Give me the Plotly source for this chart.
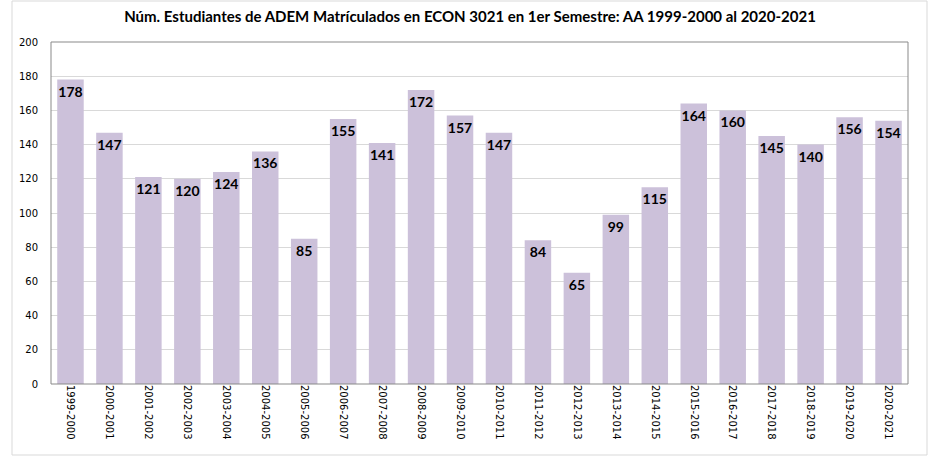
import plotly.graph_objects as go

categories = ["1999-2000","2000-2001","2001-2002","2002-2003","2003-2004","2004-2005",
              "2005-2006","2006-2007","2007-2008","2008-2009","2009-2010","2010-2011",
              "2011-2012","2012-2013","2013-2014","2014-2015","2015-2016","2016-2017",
              "2017-2018","2018-2019","2019-2020","2020-2021"]
values = [178,147,121,120,124,136,85,155,141,172,157,147,84,65,99,115,164,160,145,140,156,154]
y_ticks = [0,20,40,60,80,100,120,140,160,180,200]
title = "Núm. Estudiantes de ADEM Matrículados en ECON 3021 en 1er Semestre: AA 1999-2000 al 2020-2021"

W, H = 941, 457
L, R, T, B = 51, 33, 42, 73
pw, ph = W - L - R, H - T - B

fig = go.Figure(go.Bar(
    x=categories, y=values, marker=dict(color="#CCC1DA", line=dict(width=0)),
    width=0.68, text=values, textposition="inside", insidetextanchor="end",
    textangle=0, textfont=dict(family="Lato", size=14, color="black", weight="bold"),
    cliponaxis=False,
))

fig.update_layout(
    width=W, height=H, margin=dict(l=L, r=R, t=T, b=B, autoexpand=False),
    paper_bgcolor="white", plot_bgcolor="white",
    uniformtext=dict(minsize=14, mode="show"),
    title=dict(text="<b>" + title + "</b>", x=(470 - L) / pw, xref="paper", xanchor="center",
               y=1 - 17 / H, yanchor="middle",
               font=dict(family="Lato", size=15, color="black")),
    showlegend=False, bargap=0.32,
    xaxis=dict(tickangle=90, tickfont=dict(family="DejaVu Sans", size=10, color="black"),
               showgrid=False, showline=False, ticks="", ticklen=0, automargin=False),
    yaxis=dict(range=[0, 200], tickvals=y_ticks, showgrid=True, gridcolor="#D9D9D9",
               tickfont=dict(family="DejaVu Sans", size=10, color="black"),
               zeroline=False, showline=False, ticks="", ticklabelstandoff=12, automargin=False),
    shapes=[
        dict(type="rect", xref="paper", yref="paper", x0=0, x1=1, y0=0, y1=1,
             line=dict(color="#898989", width=1), fillcolor="rgba(0,0,0,0)", layer="above"),
        dict(type="rect", xref="paper", yref="paper",
             x0=(12 - L) / pw, x1=(927 - L) / pw, y0=(T + ph - 455) / ph, y1=(T + ph - 1) / ph,
             line=dict(color="#D9D9D9", width=1), fillcolor="rgba(0,0,0,0)"),
    ],
)
fig.write_html("out.html", config={"displayModeBar": False},
               post_script="document.body.style.margin='0';document.body.style.overflow='hidden';")
